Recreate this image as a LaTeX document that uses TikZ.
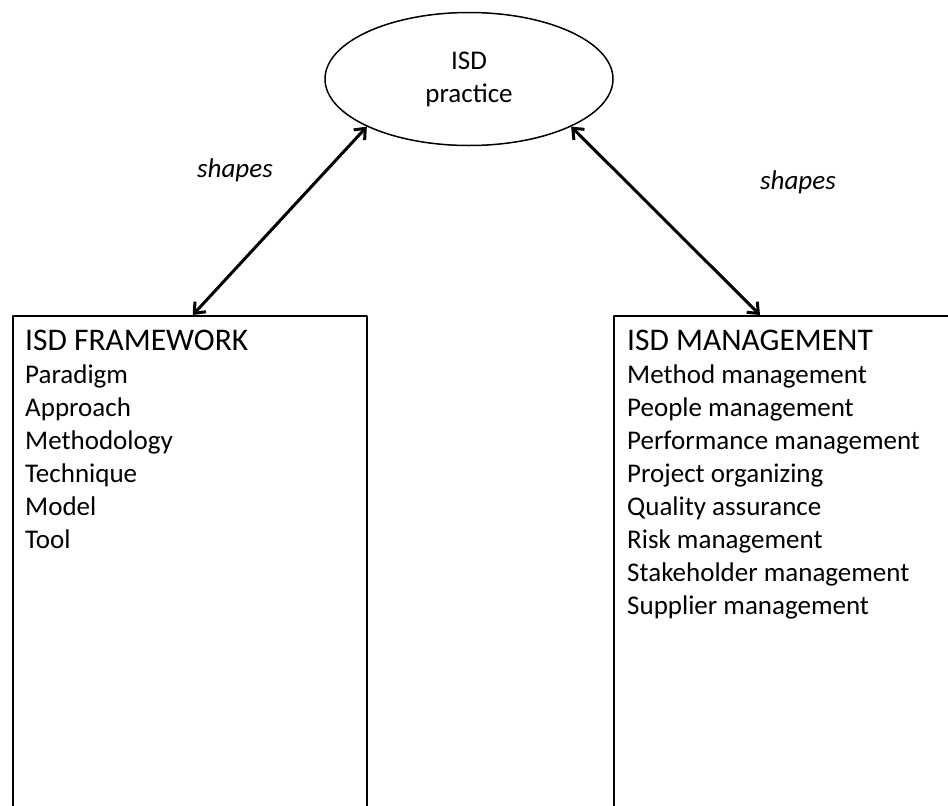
\documentclass[tikz,border=0pt]{standalone}
\usepackage{fontspec}
\setmainfont{Carlito}
\usetikzlibrary{arrows.meta,calc,shapes.geometric}
\tikzset{
  every picture/.style={line cap=round, line join=round},
  barbs/.style={line width=3pt, {Straight Barb[length=9pt,width=15pt]}-{Straight Barb[length=9pt,width=15pt]}},
  listbox/.style={draw, line width=1.5pt, minimum height=560pt, inner sep=0pt, anchor=north west},
  head/.style={font=\fontsize{31.5}{33}\selectfont, anchor=base west, inner sep=0pt},
  item/.style={font=\fontsize{27}{33}\selectfont, anchor=base west, inner sep=0pt},
  rel/.style={font=\fontsize{27}{30}\selectfont\itshape, inner sep=0pt},
}
\begin{document}
\begin{tikzpicture}[x=1pt, y=-1pt]
\useasboundingbox (0,0) rectangle (948,806);
\clip (0,0) rectangle (948,806);
% top ellipse
\node[ellipse, draw, line width=1.5pt, minimum width=288pt, minimum height=133pt,
  align=center, font=\fontsize{27}{33}\selectfont] (practice) at (469,79) {ISD\\practice};
% boxes
\node[listbox, minimum width=354pt] (framework) at (12,315) {};
\node[listbox, minimum width=345pt] (management) at (613,315) {};
\node[head] (fwhead) at (25,350) {ISD FRAMEWORK};
\foreach \t [count=\k] in {Paradigm,Approach,Methodology,Technique,Model,Tool}
  \node[item] (fw\k) at (25,350+33*\k) {\t};
\node[head] (mghead) at (627,350) {ISD MANAGEMENT};
\foreach \t [count=\k] in {Method management,People management,Performance management,
    Project organizing,Quality assurance,Risk management,Stakeholder management,Supplier management}
  \node[item] (mg\k) at (627,350+33*\k) {\t};
% relations
\draw[barbs] ([xshift=3pt]framework.north) -- (practice.205);
\draw[barbs] (practice.335) -- ([xshift=147pt]management.north west);
\node[rel] (shl) at (235,170) {shapes};
\node[rel] (shr) at (798,182) {shapes};
\end{tikzpicture}
\end{document}
